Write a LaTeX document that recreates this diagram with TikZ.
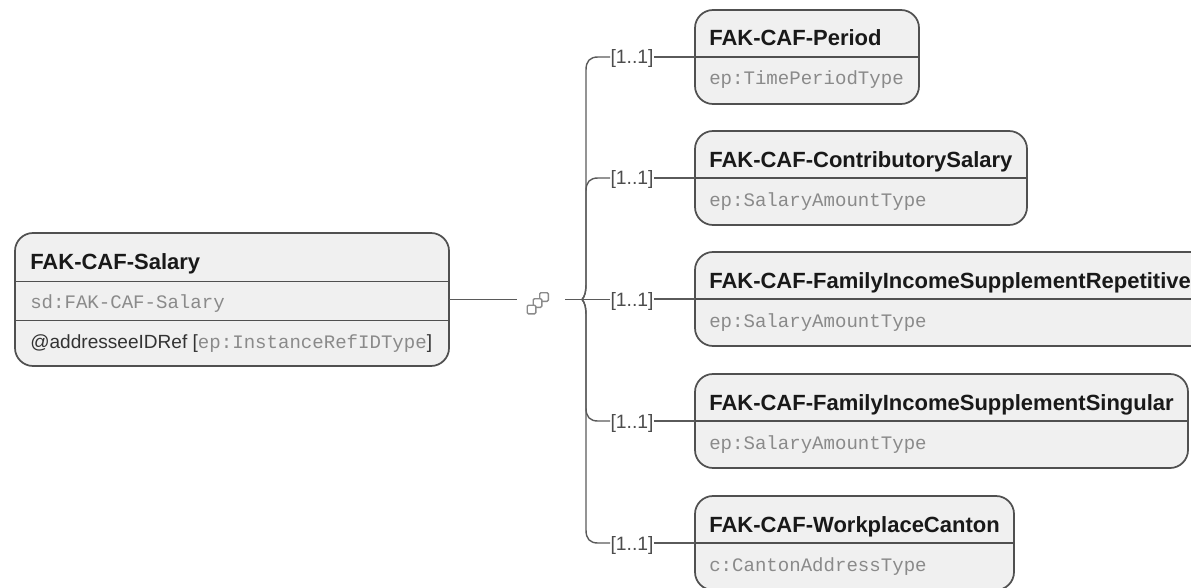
\documentclass[tikz,border=0pt]{standalone}
\usepackage{fontspec}
\setmainfont{Liberation Sans}
\setmonofont{Liberation Mono}
\definecolor{boxfill}{HTML}{F0F0F0}
\definecolor{boxline}{HTML}{505050}
\definecolor{typetext}{HTML}{8A8A8A}
\definecolor{conn}{HTML}{5A5A5A}
\tikzset{
  titletext/.style={anchor=base west,inner sep=0pt,font=\fontsize{16.5pt}{18pt}\bfseries,text=black!90},
  monotext/.style={anchor=base west,inner sep=0pt,font=\ttfamily\fontsize{14.3pt}{16pt}\selectfont,text=typetext},
  attrtext/.style={anchor=base west,inner sep=0pt,font=\fontsize{14.3pt}{16pt}\selectfont,text=black!80},
  multtext/.style={anchor=base,inner sep=0pt,font=\fontsize{14.5pt}{16pt}\selectfont,text=black!70},
  boxshape/.style={draw=boxline,fill=boxfill,line width=1.3pt,rounded corners=13.5pt,inner sep=0pt,outer sep=0pt},
  sepline/.style={draw=boxline,line width=1pt},
  connline/.style={draw=conn,line width=1.05pt},
  compsquare/.style={draw=typetext,line width=1pt,fill=white,rounded corners=1pt}
}
\begin{document}
\begin{tikzpicture}[x=0.75pt,y=-0.75pt]
\useasboundingbox (0,0) rectangle (1191,588);
\begin{scope}
\clip (0,0) rectangle (1191,588);
% root element
\node[boxshape,minimum width=434*0.75pt,minimum height=133*0.75pt] (root) at (232,299.5) {};
\draw[sepline] (root.west |- 0,281.5) -- (root.east |- 0,281.5);
\draw[sepline] (root.west |- 0,320.5) -- (root.east |- 0,320.5);
\node[titletext] (roottitle) at (30,269) {FAK-CAF-Salary};
\node[monotext] (roottype) at (30,308) {sd:FAK-CAF-Salary};
\node[attrtext] (rootattr) at (30,348) {@addresseeIDRef [\textcolor{typetext}{\ttfamily ep:InstanceRefIDType}]};
% child elements
\foreach \nm/\yt/\bw/\ttl/\typ in {
  a/10/224/FAK-CAF-Period/ep:TimePeriodType,
  b/131/332/FAK-CAF-ContributorySalary/ep:SalaryAmountType,
  c/252/515/FAK-CAF-FamilyIncomeSupplementRepetitive/ep:SalaryAmountType,
  d/374/493/FAK-CAF-FamilyIncomeSupplementSingular/ep:SalaryAmountType,
  e/496/319/FAK-CAF-WorkplaceCanton/c:CantonAddressType}{
  \node[boxshape,minimum width=\bw*0.75pt,minimum height=94*0.75pt] (box\nm) at (695+\bw/2,\yt+47) {};
  \draw[sepline] (box\nm.west) -- (box\nm.east);
  \node[titletext] (t\nm) at (709,\yt+36) {\ttl};
  \node[monotext] (ty\nm) at (709,\yt+75) {\typ};
}
\end{scope}
% compositor icon
\coordinate (compin) at (517,299.5);
\coordinate (compout) at (565,299.5);
\coordinate (hub) at (582,299.5);
\draw[connline] (root.east) -- (compin);
\node[compsquare,minimum size=6.5pt,inner sep=0pt] (compc) at (544,297) {};
\node[compsquare,minimum size=6.5pt,inner sep=0pt] (compb) at (537.5,303) {};
\node[compsquare,minimum size=6.5pt,inner sep=0pt] (compa) at (531.5,309.5) {};
% multiplicities and straight runs
\foreach \nm/\yy in {a/57,b/178,c/299.5,d/421,e/543}{
  \node[multtext] (m\nm) at (632,\yy+7) {[1..1]};
  \draw[connline] (m\nm.east |- box\nm.west) -- (box\nm.west);
}
\draw[connline] (compout) -- (mc.west |- hub);
% brace branches
\foreach \nm/\yy in {a/57,b/178}{
  \draw[connline] (hub) .. controls (585,296) and (586,292) .. (586,282) -- (586,\yy+13) .. controls (586,\yy+4) and (590,\yy) .. (598,\yy) -- (m\nm.west |- box\nm.west);
}
\foreach \nm/\yy in {d/421,e/543}{
  \draw[connline] (hub) .. controls (585,303) and (586,307) .. (586,317) -- (586,\yy-13) .. controls (586,\yy-4) and (590,\yy) .. (598,\yy) -- (m\nm.west |- box\nm.west);
}
\end{tikzpicture}
\end{document}
